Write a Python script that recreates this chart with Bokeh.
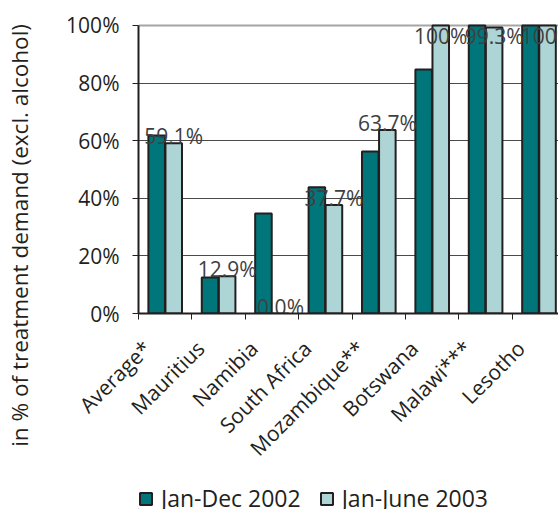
import math
from bokeh.plotting import figure
from bokeh.layouts import column
from bokeh.models import (ColumnDataSource, Range1d, FixedTicker, Grid,
                          LinearAxis, Legend, LegendItem)
from bokeh.core.properties import value
from bokeh.transform import dodge
from bokeh.embed import file_html
from bokeh.resources import INLINE

# ---- data ----
categories = ["Average*", "Mauritius", "Namibia", "South Africa",
              "Mozambique**", "Botswana", "Malawi***", "Lesotho"]
jan_dec_2002 = [61.8, 12.5, 34.7, 43.8, 56.2, 84.7, 100.0, 100.0]
jan_jun_2003 = [59.1, 12.9, 0.0, 37.7, 63.7, 100.0, 99.3, 100.0]
labels_2003 = ["59.1%", "12.9%", "0.0%", "37.7%", "63.7%", "100%", "99.3%", "100%"]
series_names = ["Jan-Dec 2002", "Jan-June 2003"]
y_ticks = [0, 20, 40, 60, 80, 100]
y_tick_labels = ["0%", "20%", "40%", "60%", "80%", "100%"]
y_title = "in % of treatment demand (excl. alcohol)"

DARK = "#00767a"
LIGHT = "#aed5d5"
EDGE = "#231f20"
FONT = "Open Sans"

n = len(categories)
centers = [i + 0.5 for i in range(n)]
src = ColumnDataSource(dict(
    x=centers,
    a=jan_dec_2002,
    b=jan_jun_2003,
    lab=labels_2003,
    lab_y=[min(v, 94.0) for v in jan_jun_2003],
))

p = figure(frame_width=420, frame_height=297,
           x_range=Range1d(0, 420 / 53.4), y_range=Range1d(0, 103.1),
           output_backend="svg", toolbar_location=None,
           min_border_left=138, min_border_right=0,
           min_border_top=16, min_border_bottom=167)
p.outline_line_color = None
p.background_fill_color = "white"
p.border_fill_color = "white"

# grid
p.xgrid.visible = False
p.ygrid.ticker = FixedTicker(ticks=y_ticks[:-1])
p.ygrid.grid_line_color = "#4a4a4a"
p.ygrid.grid_line_width = 1
top_grid = Grid(dimension=1, ticker=FixedTicker(ticks=[y_ticks[-1]]),
                grid_line_color="#a6a6a6", grid_line_width=2)
p.add_layout(top_grid)

bw = 0.31
r1 = p.vbar(x=dodge("x", -0.16), top="a", width=bw, source=src,
            fill_color=DARK, line_color=EDGE, line_width=2)
r2 = p.vbar(x=dodge("x", 0.16), top="b", width=bw, source=src,
            fill_color=LIGHT, line_color=EDGE, line_width=2)

p.text(x=dodge("x", 0.16), y="lab_y", text="lab", source=src,
       text_align="center", text_baseline="alphabetic", y_offset=-7,
       text_font=value(FONT), text_font_size="21px", text_color="#404040")

# y axis
ya = p.yaxis[0]
ya.ticker = FixedTicker(ticks=y_ticks)
ya.major_label_overrides = dict(zip(y_ticks, y_tick_labels))
ya.bounds = (0, 100)
ya.major_tick_out = 6
ya.major_tick_in = 0
ya.minor_tick_out = 0
ya.minor_tick_in = 0
ya.axis_line_color = EDGE
ya.axis_line_width = 2
ya.major_tick_line_color = EDGE
ya.major_tick_line_width = 1
ya.major_label_standoff = 13
ya.major_label_text_font = FONT
ya.major_label_text_font_size = "21px"
ya.major_label_text_color = EDGE

# y title: a single vertical tick label on a bare outer axis
title_pos = 27.1
title_axis = LinearAxis(ticker=FixedTicker(ticks=[title_pos]),
                        major_label_overrides={title_pos: y_title},
                        major_label_orientation="parallel",
                        major_label_standoff=28,
                        axis_line_color=None, major_tick_line_color=None,
                        minor_tick_line_color=None,
                        major_tick_out=0, major_tick_in=0,
                        minor_tick_out=0, minor_tick_in=0,
                        major_label_text_font=FONT,
                        major_label_text_font_size="22.5px",
                        major_label_text_color=EDGE)
p.add_layout(title_axis, "left")

# x axis
shift = 0.34
label_ticks = [c - shift for c in centers]
xa = p.xaxis[0]
xa.ticker = FixedTicker(ticks=label_ticks, minor_ticks=list(range(n + 1)))
xa.major_label_overrides = dict(zip(label_ticks, categories))
xa.major_label_orientation = math.pi / 4
xa.major_tick_out = 0
xa.major_tick_in = 0
xa.minor_tick_out = 6
xa.minor_tick_in = 0
xa.minor_tick_line_color = EDGE
xa.minor_tick_line_width = 1
xa.axis_line_color = EDGE
xa.axis_line_width = 2
xa.major_label_standoff = 25
xa.major_label_text_font = FONT
xa.major_label_text_font_size = "21px"
xa.major_label_text_color = EDGE

# legend strip below the chart (its frame lines up with the chart's frame)
lf = figure(frame_width=420, frame_height=29,
            x_range=Range1d(0, 420 / 53.4), y_range=Range1d(0, 103.1),
            x_axis_type=None, y_axis_type=None,
            min_border_left=138, min_border_right=0,
            min_border_top=0, min_border_bottom=0,
            output_backend="svg", toolbar_location=None)
lf.outline_line_color = None
lf.grid.visible = False
# key swatches: same series/styles, one zero-height sample outside the view
key_src = ColumnDataSource(dict(x=[-10.0], a=[0.0], b=[0.0]))
la = lf.vbar(x="x", top="a", width=bw, source=key_src,
             fill_color=DARK, line_color=EDGE, line_width=2)
lb = lf.vbar(x="x", top="b", width=bw, source=key_src,
             fill_color=LIGHT, line_color=EDGE, line_width=2)
lg = Legend(items=[LegendItem(label=series_names[0], renderers=[la]),
                   LegendItem(label=series_names[1], renderers=[lb])],
            orientation="horizontal", location=(0, -5),
            border_line_color=None, background_fill_alpha=0,
            padding=0, margin=0, spacing=18, label_standoff=8,
            glyph_width=15, glyph_height=15,
            label_text_font=FONT, label_text_font_size="23px",
            label_text_color=EDGE)
lf.add_layout(lg)

layout = column(p, lf, spacing=0)
open("out.html", "w").write(file_html(layout, INLINE))
